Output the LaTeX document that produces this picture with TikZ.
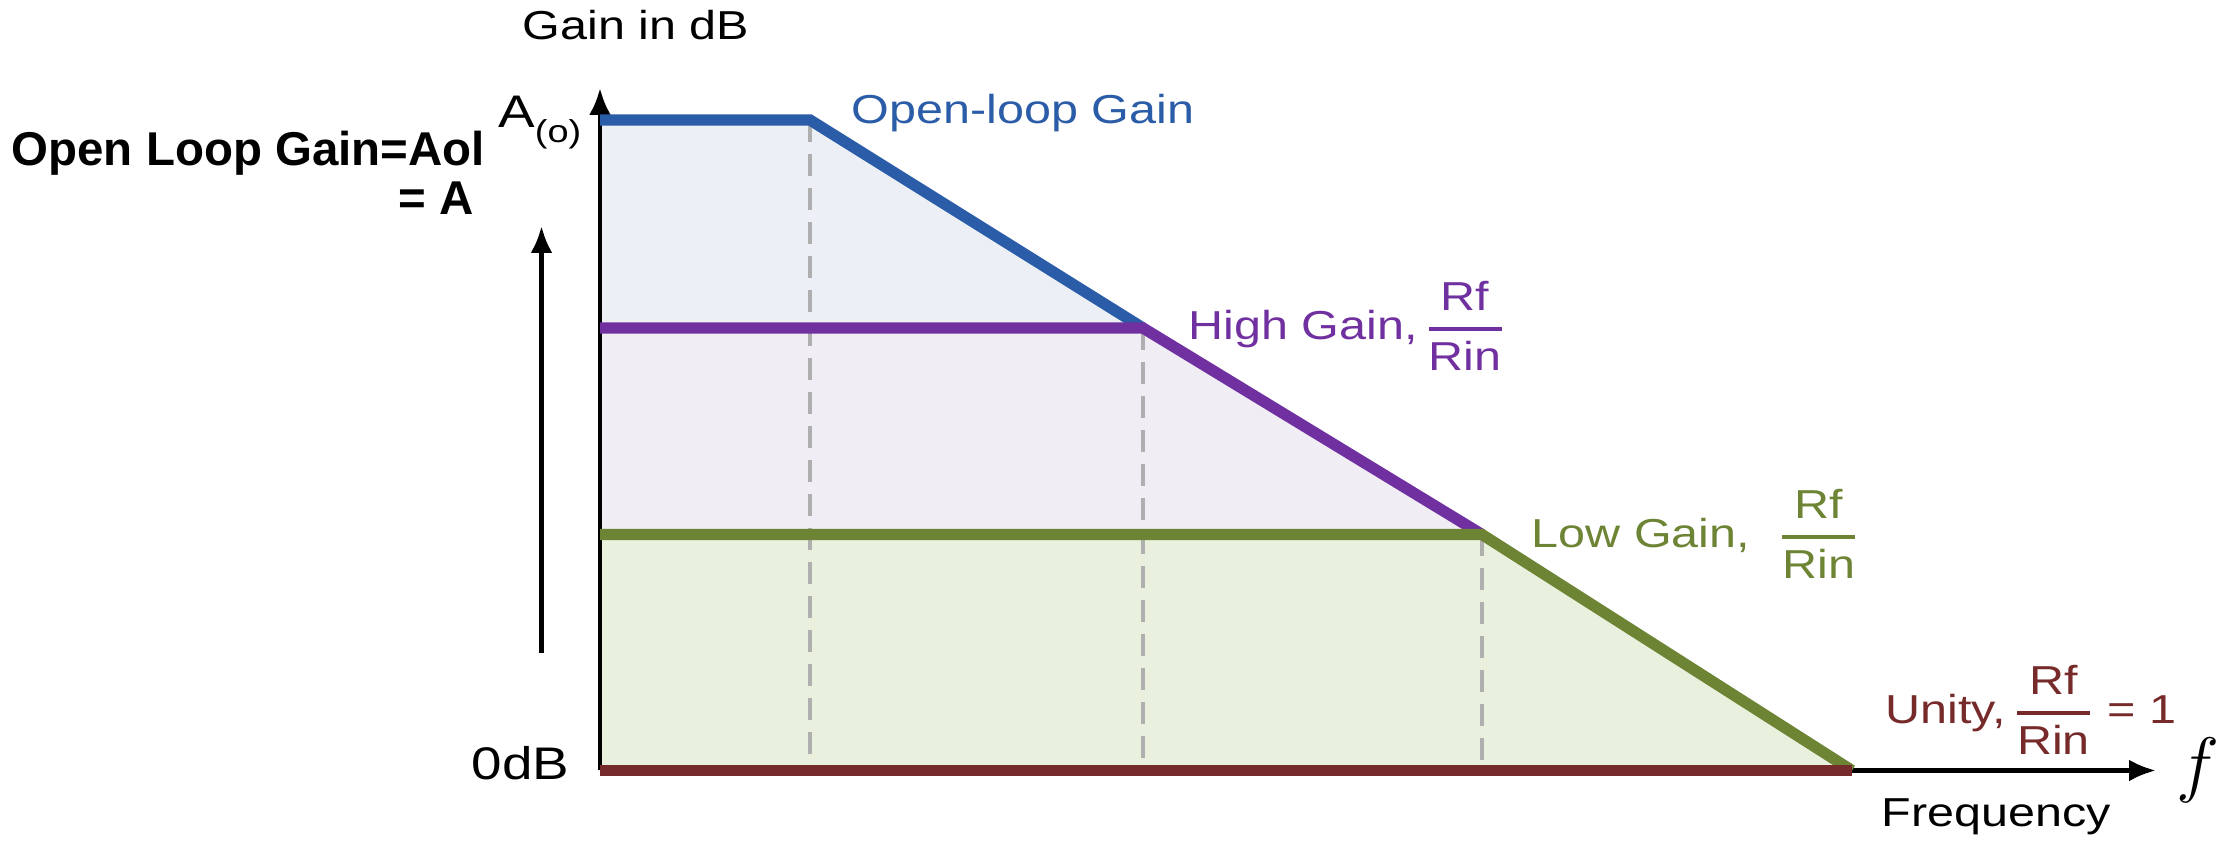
\documentclass[tikz,border=0pt]{standalone}
\usepackage{amsmath}
\usepackage{fontspec}
\setmainfont{Liberation Sans}[FakeStretch=1.2]
\newfontfamily\notefont{Liberation Sans}
\usepackage{tikz}
\usetikzlibrary{arrows.meta,positioning,calc}

\definecolor{olblue}{RGB}{42,92,167}
\definecolor{hipurple}{RGB}{112,48,160}
\definecolor{logreen}{RGB}{108,132,52}
\definecolor{unityred}{RGB}{118,42,42}
\definecolor{fillblue}{RGB}{236,240,246}
\definecolor{filllav}{RGB}{240,237,245}
\definecolor{fillgreen}{RGB}{233,240,221}
\definecolor{guidegray}{RGB}{175,175,175}

\newcommand{\rratio}{\genfrac{}{}{1pt}{0}{\text{Rf}}{\text{Rin}}}

\begin{document}
\begin{tikzpicture}[
    font=\fontsize{11.5}{13}\selectfont,
    >={Latex[length=0.27cm,width=0.22cm]},
    % --- line styles ---
    gainline/.style = {line width=3.2pt},
    axisline/.style = {->, line width=1.3pt, black},
    guide/.style    = {line width=0.9pt, guidegray,
                       dash pattern=on 0.22cm off 0.12cm},
    % --- label styles ---
    lbl/.style      = {inner sep=0pt, anchor=west},
    note/.style     = {inner sep=0pt, font=\notefont\bfseries\fontsize{13.5}{15}\selectfont},
]
\useasboundingbox (0,0) rectangle (22.17,8.40);

%============ CORNER POINTS ============
\coordinate (origin) at (6.00,0.695);
\coordinate (aol)    at (6.00,7.20);
\coordinate (hi)     at (6.00,5.12);
\coordinate (lo)     at (6.00,3.055);
\coordinate (pole1)  at (8.10,7.20);
\coordinate (pole2)  at (11.43,5.12);
\coordinate (pole3)  at (14.82,3.055);
\coordinate (pole4)  at (18.52,0.695);
\coordinate (ytip)   at (6.00,7.52);
\coordinate (xtip)   at (21.56,0.695);

%============ SHADED AREAS ============
\fill[fillblue]  (origin) -- (aol) -- (pole1) -- (pole4) -- cycle;
\fill[filllav]   (origin) -- (hi)  -- (pole2) -- (pole4) -- cycle;
\fill[fillgreen] (origin) -- (lo)  -- (pole3) -- (pole4) -- cycle;

%============ AXES ============
\draw[axisline] (origin) -- (ytip);
\draw[axisline] (origin) -- (xtip);

%============ BREAK-POINT GUIDES ============
\foreach \p in {pole1,pole2,pole3}
  \draw[guide] (\p) -- (\p |- origin);

%============ GAIN CURVES ============
\draw[gainline, olblue]   (aol) -- (pole1) -- (pole2);
\draw[gainline, hipurple] (hi) -- (pole2) -- (pole3);
\draw[gainline, logreen]  (lo) -- (pole3) -- (pole4);
\draw[gainline, unityred] (origin) -- (pole4);

%============ AXIS LABELS ============
\node (ylabel) at (6.36,8.15) {Gain in dB};
\node (zerodb) [anchor=east, inner sep=0pt] at (5.70,0.77)
  {\fontsize{13}{14}\selectfont 0dB};
\node (aolsym) [anchor=base east, inner sep=0pt] at (5.82,7.12)
  {\fontsize{13}{14}\selectfont A\raisebox{-0.6ex}{\fontsize{9}{10}\selectfont(o)}};
\node (freq) [lbl] at (18.81,0.23) {Frequency};
\node (fsym) [lbl] at (21.76,0.70) {\fontsize{20}{22}\selectfont$f$};

%============ CURVE LABELS ============
\node (openlbl) [lbl, text=olblue] at (8.51,7.27) {Open-loop Gain};
\node (highlbl) [lbl, text=hipurple] at (11.88,5.14)
  {High Gain,\,$\rratio$};
\node (lowlbl) [lbl, text=logreen] at (15.31,3.06)
  {Low Gain,\hspace{0.28cm}$\rratio$};
\node (unitylbl) [lbl, text=unityred] at (18.85,1.30)
  {Unity,\,$\rratio$ = 1};

%============ SIDE NOTE ============
\node (note1) [note, anchor=west] at (0.11,6.87) {Open Loop Gain=Aol};
\node (note2) [note, anchor=east] at (4.74,6.42) {= A};

\coordinate (arrbase) at (5.415,1.87);
\coordinate (arrtip)  at (5.415,6.14);
\draw[axisline] (arrbase) -- (arrtip);

\end{tikzpicture}
\end{document}
